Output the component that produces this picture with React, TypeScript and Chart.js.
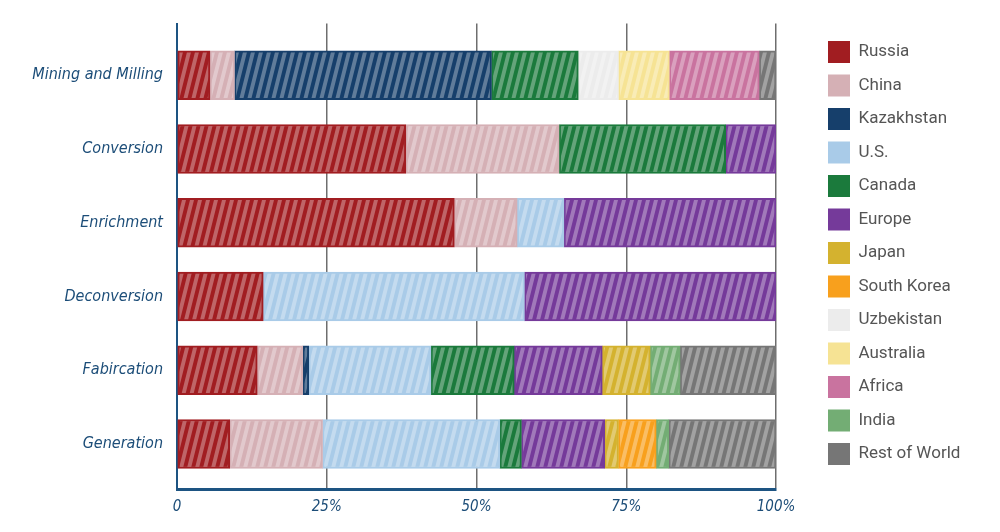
import React, { useEffect, useRef } from "react";
import { Chart, registerables } from "chart.js";

Chart.register(...registerables);

const categories = [
  "Mining and Milling",
  "Conversion",
  "Enrichment",
  "Deconversion",
  "Fabircation",
  "Generation",
];

const xTicks = [0, 25, 50, 75, 100];

const russia = [5.5, 38.2, 46.3, 14.4, 13.4, 8.8];
const china = [4.1, 25.6, 10.5, 0, 7.6, 15.5];
const kazakhstan = [42.9, 0, 0, 0, 1.0, 0];
const us = [0, 0, 7.8, 43.6, 20.4, 29.6];
const canada = [14.5, 27.8, 0, 0, 13.9, 3.6];
const europe = [0, 8.4, 35.4, 42.0, 14.7, 13.9];
const japan = [0, 0, 0, 0, 8.0, 2.3];
const southKorea = [0, 0, 0, 0, 0, 6.3];
const uzbekistan = [6.7, 0, 0, 0, 0, 0];
const australia = [8.5, 0, 0, 0, 0, 0];
const africa = [15.0, 0, 0, 0, 0, 0];
const india = [0, 0, 0, 0, 5.0, 2.1];
const restOfWorld = [2.8, 0, 0, 0, 16.0, 17.9];

const series: { name: string; values: number[]; color: string }[] = [
  { name: "Russia", values: russia, color: "#a11d21" },
  { name: "China", values: china, color: "#d5b0b5" },
  { name: "Kazakhstan", values: kazakhstan, color: "#163f6b" },
  { name: "U.S.", values: us, color: "#a9cbe8" },
  { name: "Canada", values: canada, color: "#1b7a3c" },
  { name: "Europe", values: europe, color: "#753a9a" },
  { name: "Japan", values: japan, color: "#d4b22f" },
  { name: "South Korea", values: southKorea, color: "#f8a01d" },
  { name: "Uzbekistan", values: uzbekistan, color: "#ececec" },
  { name: "Australia", values: australia, color: "#f6e394" },
  { name: "Africa", values: africa, color: "#c9739f" },
  { name: "India", values: india, color: "#73ad74" },
  { name: "Rest of World", values: restOfWorld, color: "#767676" },
];

const AXIS_BLUE = "#1d5482";
const LABEL_BLUE = "#1c4d78";
const HAND_FONT = '"DejaVu Sans Condensed", "DejaVu Sans", sans-serif';

function makePattern(color: string): CanvasPattern | string {
  const c = document.createElement("canvas");
  c.width = 8;
  c.height = 32;
  const g = c.getContext("2d");
  if (!g) return color;
  g.fillStyle = color;
  g.fillRect(0, 0, 8, 32);
  g.fillStyle = "rgba(255,255,255,0.32)";
  for (const off of [-8, 0, 8]) {
    g.beginPath();
    g.moveTo(off, 32);
    g.lineTo(off + 4, 32);
    g.lineTo(off + 12, 0);
    g.lineTo(off + 8, 0);
    g.closePath();
    g.fill();
  }
  return g.createPattern(c, "repeat") || color;
}

const legendPlacer = {
  id: "legendPlacer",
  beforeLayout(chart: any) {
    const lg = chart.legend;
    if (lg && !lg.__patched) {
      const orig = lg.fit.bind(lg);
      lg.fit = function () {
        orig();
        this.width = 224;
      };
      lg.__patched = true;
    }
  },
  afterLayout(chart: any) {
    const lg = chart.legend;
    if (!lg) return;
    const w = lg.width;
    const h = lg.height;
    lg.left = 816.5;
    lg.right = 816.5 + w;
    lg.top = 29.5;
    lg.bottom = 29.5 + h;
  },
};

export default function App() {
  const ref = useRef<HTMLCanvasElement | null>(null);

  useEffect(() => {
    if (!ref.current) return;
    const datasets = series.map((s) => ({
      label: s.name,
      data: s.values.map((v, i) => ({ x: v === 0 ? null : v, y: i })),
      backgroundColor: makePattern(s.color) as any,
      borderColor: s.color,
      borderWidth: 2,
      borderSkipped: false as any,
      barThickness: 49,
    }));

    const chart = new Chart(ref.current, {
      type: "bar",
      data: { datasets: datasets as any },
      plugins: [legendPlacer as any],
      options: {
        indexAxis: "y",
        animation: false,
        responsive: false,
        maintainAspectRatio: false,
        devicePixelRatio: 1,
        layout: { padding: { top: 22, right: 0, bottom: 0, left: 0 } },
        plugins: {
          tooltip: { enabled: false },
          legend: {
            position: "right",
            align: "start",
            labels: {
              boxWidth: 22,
              boxHeight: 22,
              padding: 11.5,
              color: "#555555",
              font: { family: "Roboto", size: 17 },
              generateLabels: (chart: any) => {
                const base = Chart.defaults.plugins.legend.labels.generateLabels(chart);
                return base.map((it: any, i: number) => ({
                  ...it,
                  fillStyle: series[i].color,
                  strokeStyle: series[i].color,
                  lineWidth: 0,
                }));
              },
            },
          },
        },
        scales: {
          x: {
            type: "linear",
            stacked: true,
            min: 0,
            max: 100,
            afterFit: (scale: any) => {
              scale.height = 43;
            },
            afterBuildTicks: (scale: any) => {
              scale.ticks = xTicks.map((v) => ({ value: v }));
            },
            ticks: {
              padding: 9,
              color: LABEL_BLUE,
              font: { family: HAND_FONT, style: "italic", size: 15 },
              callback: (v: any) => (v === 0 ? "0" : v + "%"),
            },
            grid: {
              drawTicks: false,
              color: (ctx: any) => (ctx.tick && ctx.tick.value === 0 ? "rgba(0,0,0,0)" : "#6e6e6e"),
              lineWidth: 1.5,
            },
            border: { display: true, color: AXIS_BLUE, width: 3 },
          },
          y: {
            type: "linear",
            stacked: true,
            reverse: true,
            offset: false,
            min: -0.7,
            max: 5.61,
            afterFit: (scale: any) => {
              scale.width = 177;
            },
            afterBuildTicks: (scale: any) => {
              scale.ticks = categories.map((_, i) => ({ value: i }));
            },
            ticks: {
              padding: 14,
              color: LABEL_BLUE,
              font: { family: HAND_FONT, style: "italic", size: 16 },
              callback: (v: any) => categories[v] ?? "",
            },
            grid: { display: false, drawTicks: false, offset: false },
            border: { display: true, color: AXIS_BLUE, width: 2 },
          },
        },
      } as any,
    });
    return () => chart.destroy();
  }, []);

  return (
    <div style={{ position: "absolute", left: 0, top: 0, width: 1000, height: 532, background: "#ffffff" }}>
      <canvas ref={ref} width={1000} height={532} style={{ width: 1000, height: 532, display: "block" }} />
    </div>
  );
}
